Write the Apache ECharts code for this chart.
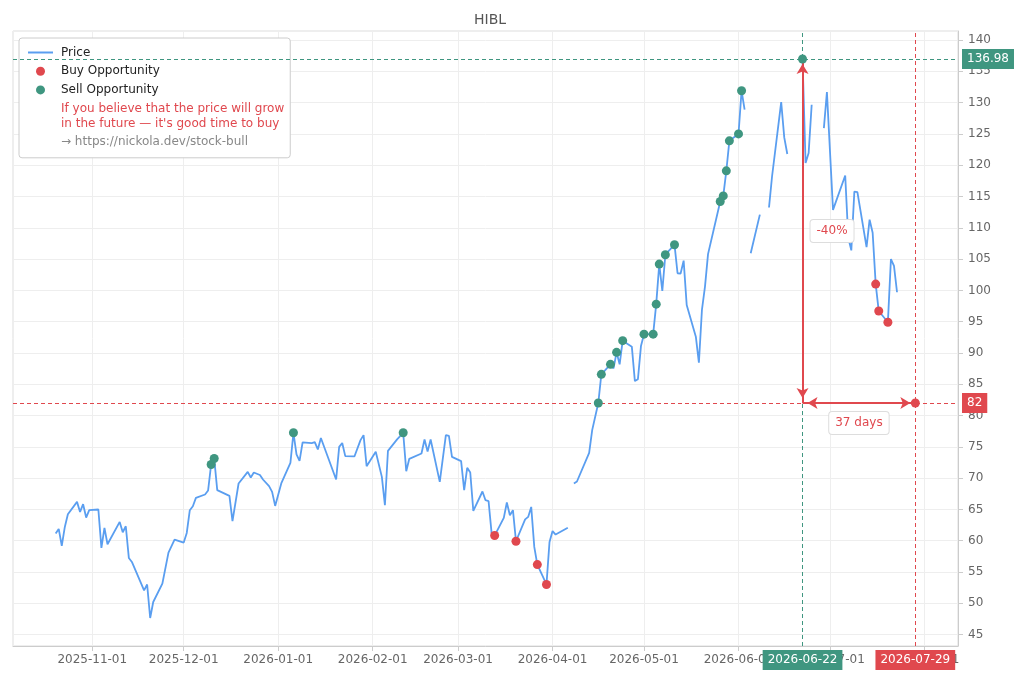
<!DOCTYPE html>
<html>
<head>
<meta charset="utf-8">
<title>HIBL</title>
<script src="https://cdn.jsdelivr.net/npm/echarts@6.0.0/dist/echarts.min.js"></script>
<style>
  html, body { margin: 0; padding: 0; background: #fff; }
  #chart { width: 1020px; height: 680px; }
</style>
</head>
<body>
<div id="chart"></div>
<script>
// price history (null = no quote, line is broken there)
var priceDates = [
  '2025-10-20','2025-10-21','2025-10-22','2025-10-23','2025-10-24','2025-10-27','2025-10-28','2025-10-29','2025-10-30','2025-10-31',
  '2025-11-03','2025-11-04','2025-11-05','2025-11-06','2025-11-10','2025-11-11','2025-11-12','2025-11-13','2025-11-14','2025-11-18',
  '2025-11-19','2025-11-20','2025-11-21','2025-11-24','2025-11-26','2025-11-28','2025-12-01','2025-12-02','2025-12-03','2025-12-04',
  '2025-12-05','2025-12-08','2025-12-09','2025-12-10','2025-12-11','2025-12-12','2025-12-16','2025-12-17','2025-12-19','2025-12-22',
  '2025-12-23','2025-12-24','2025-12-26','2025-12-27','2025-12-29','2025-12-30','2025-12-31','2026-01-02','2026-01-05','2026-01-06',
  '2026-01-07','2026-01-08','2026-01-09','2026-01-12','2026-01-13','2026-01-14','2026-01-15','2026-01-20','2026-01-21','2026-01-22',
  '2026-01-23','2026-01-26','2026-01-28','2026-01-29','2026-01-30','2026-02-02','2026-02-04','2026-02-05','2026-02-06','2026-02-09',
  '2026-02-11','2026-02-12','2026-02-13','2026-02-17','2026-02-18','2026-02-19','2026-02-20','2026-02-23','2026-02-25','2026-02-26',
  '2026-02-27','2026-03-02','2026-03-03','2026-03-04','2026-03-05','2026-03-06','2026-03-09','2026-03-10','2026-03-11','2026-03-12',
  '2026-03-13','2026-03-16','2026-03-17','2026-03-18','2026-03-19','2026-03-20','2026-03-23','2026-03-24','2026-03-25','2026-03-26',
  '2026-03-27','2026-03-30','2026-03-31','2026-04-01','2026-04-02','2026-04-06','2026-04-07','2026-04-08','2026-04-09','2026-04-13',
  '2026-04-14','2026-04-16','2026-04-17','2026-04-20','2026-04-21','2026-04-22','2026-04-23','2026-04-24','2026-04-27','2026-04-28',
  '2026-04-29','2026-04-30','2026-05-01','2026-05-04','2026-05-05','2026-05-06','2026-05-07','2026-05-08','2026-05-11','2026-05-12',
  '2026-05-13','2026-05-14','2026-05-15','2026-05-18','2026-05-19','2026-05-20','2026-05-21','2026-05-22','2026-05-26','2026-05-27',
  '2026-05-28','2026-05-29','2026-06-01','2026-06-02','2026-06-03','2026-06-04','2026-06-05','2026-06-08','2026-06-10','2026-06-11',
  '2026-06-12','2026-06-15','2026-06-16','2026-06-17','2026-06-18','2026-06-22','2026-06-23','2026-06-24','2026-06-25','2026-06-26',
  '2026-06-29','2026-06-30','2026-07-02','2026-07-06','2026-07-07','2026-07-08','2026-07-09','2026-07-10','2026-07-13','2026-07-14',
  '2026-07-15','2026-07-16','2026-07-17','2026-07-20','2026-07-21','2026-07-22','2026-07-23'
];
var priceValues = [
  61.14, 61.88, 59.16, 62.2, 64.23, 66.2, 64.6, 65.83, 63.7, 64.87,
  64.98, 58.84, 62.04, 59.43, 63.0, 61.35, 62.31, 57.24, 56.6, 52.07,
  53.0, 47.64, 50.2, 53.14, 58.1, 60.18, 59.7, 61.24, 64.87, 65.51,
  66.84, 67.38, 68.02, 72.18, 73.14, 68.07, 67.16, 63.11, 69.14, 71.0,
  70.1, 70.9, 70.5, 69.78, 68.71, 67.8, 65.56, 69.14, 72.44, 77.24,
  73.78, 72.76, 75.7, 75.6, 75.75, 74.58, 76.4, 69.78, 75.0, 75.6,
  73.51, 73.46, 76.07, 76.87, 71.91, 74.2, 70.2, 65.67, 74.36, 76.18,
  77.24, 71.11, 73.08, 73.94, 76.18, 74.26, 76.18, 69.4, 76.87, 76.76,
  73.4, 72.71, 68.07, 71.64, 70.9, 64.76, 67.86, 66.47, 66.34, 61.2,
  60.82, 63.64, 66.1, 64.07, 64.87, 59.91, 63.4, 63.8, 65.4, 59.0,
  56.18, 53.0, 59.8, 61.54, 60.98, 62.07, null, 69.14, 69.46, 74.04,
  77.67, 82.0, 86.58, 88.18, 87.54, 90.1, 88.18, 91.96, 91.0, 85.51,
  85.8, 91.1, 93.0, 93.0, 97.8, 104.2, 99.9, 105.7, 107.3, 102.74,
  102.7, 104.76, 97.67, 92.6, 88.44, 96.87, 100.6, 105.8, 114.2, 115.1,
  119.1, 123.9, 125.0, 131.9, 128.87, null, 105.94, 112.1, null, 113.24,
  118.2, 130.1, 124.44, 121.8, null, 136.98, 120.34, 121.94, 129.67, null,
  125.94, 131.7, 112.87, 118.36, 108.4, 106.4, 115.8, 115.7, 106.9, 111.3,
  109.2, 101.0, 96.7, 94.9, 105.0, 103.9, 99.7
];

var buyDates = ['2026-03-13', '2026-03-20', '2026-03-27', '2026-03-30', '2026-07-16', '2026-07-17', '2026-07-20', '2026-07-29'];
var buyValues = [60.82, 59.91, 56.18, 53.0, 101.0, 96.7, 94.9, 82];

var sellDates = [
  '2025-12-10', '2025-12-11', '2026-01-06', '2026-02-11', '2026-04-16', '2026-04-17', '2026-04-20', '2026-04-22',
  '2026-04-24', '2026-05-01', '2026-05-04', '2026-05-05', '2026-05-06', '2026-05-08', '2026-05-11', '2026-05-26',
  '2026-05-27', '2026-05-28', '2026-05-29', '2026-06-01', '2026-06-02', '2026-06-22'
];
var sellValues = [
  72.18, 73.14, 77.24, 77.24, 82.0, 86.58, 88.18, 90.1,
  91.96, 93.0, 93.0, 97.8, 104.2, 105.7, 107.3, 114.2,
  115.1, 119.1, 123.9, 125.0, 131.9, 136.98
];

// signal: last sell peak and the target buy
var sellSignalDate = '2026-06-22';
var sellSignalPrice = 136.98;
var buySignalDate = '2026-07-29';
var buySignalPrice = 82;

var ticker = 'HIBL';
var noteText = 'If you believe that the price will grow\nin the future \u2014 it\'s good time to buy';
var linkText = '\u2192 https://nickola.dev/stock-bull';

var BLUE = '#5a9ef0';
var GREEN = '#3f9680';
var RED = '#e0484e';
var FONT = 'DejaVu Sans';

function zip(a, b) {
  var out = [];
  for (var i = 0; i < a.length; i++) out.push([a[i], b[i]]);
  return out;
}

var tSell = echarts.number.parseDate(sellSignalDate).getTime();
var tBuy = echarts.number.parseDate(buySignalDate).getTime();
var days = Math.round((tBuy - tSell) / 86400000);
var pct = Math.round((buySignalPrice - sellSignalPrice) / sellSignalPrice * 100);

var myChart = echarts.init(document.getElementById('chart'));

var tagLabel = function (color, text, pos) {
  return {
    show: true, position: pos, distance: 4, formatter: text,
    color: '#fff', backgroundColor: color, padding: [4, 5],
    fontSize: 12, fontFamily: FONT
  };
};

var arrowEnd = function (coord) {
  return { coord: coord, symbol: 'arrow', symbolSize: [9, 10], symbolOffset: [0, 5] };
};

option = {
  animation: false,
  textStyle: { fontFamily: FONT },
  title: {
    text: ticker,
    left: 485,
    top: 8,
    textAlign: 'center',
    textStyle: { color: '#555', fontSize: 14, fontWeight: 'normal', fontFamily: FONT }
  },
  legend: {
    orient: 'vertical',
    left: 19,
    top: 38,
    padding: [7, 6, 8, 8],
    itemWidth: 25,
    itemHeight: 9,
    itemGap: 3.7,
    backgroundColor: '#fff',
    borderColor: '#ccc',
    borderWidth: 1,
    borderRadius: 3,
    textStyle: { color: '#222', fontSize: 12, lineHeight: 15, fontFamily: FONT, padding: [0, 0, 0, 3] },
    data: [
      { name: 'Price', itemStyle: { opacity: 0 }, lineStyle: { width: 2 } },
      { name: 'Buy Opportunity', icon: 'circle' },
      { name: 'Sell Opportunity', icon: 'circle' },
      { name: noteText, icon: 'circle', textStyle: { color: RED } },
      { name: linkText, icon: 'circle', textStyle: { color: '#888' } }
    ]
  },
  grid: {
    left: 13, right: 62, top: 31, bottom: 34,
    show: true, borderColor: '#ddd', borderWidth: 1,
    containLabel: false,
    outerBoundsMode: 'none'
  },
  xAxis: {
    type: 'time',
    min: '2025-10-06',
    max: '2026-08-12',
    splitNumber: 10,
    axisLine: { show: true, lineStyle: { color: '#ccc' } },
    axisTick: { show: true, length: 5, lineStyle: { color: '#ccc' } },
    splitLine: { show: true, lineStyle: { color: '#eee' } },
    axisLabel: {
      formatter: '{yyyy}-{MM}-{dd}',
      color: '#666', fontSize: 12, margin: 8,
      showMinLabel: false, showMaxLabel: false,
      hideOverlap: false
    }
  },
  yAxis: {
    type: 'value',
    position: 'right',
    min: 43.17,
    max: 141.45,
    splitNumber: 20,
    axisLine: { show: true, lineStyle: { color: '#ccc' } },
    axisTick: { show: true, length: 5, lineStyle: { color: '#ccc' } },
    splitLine: { show: true, lineStyle: { color: '#eee' } },
    axisLabel: {
      color: '#666', fontSize: 12, margin: 10,
      showMinLabel: false, showMaxLabel: false
    }
  },
  series: [
    {
      name: 'Price',
      type: 'line',
      z: 2,
      data: zip(priceDates, priceValues),
      symbol: 'none',
      connectNulls: false,
      color: BLUE,
      lineStyle: { color: BLUE, width: 1.8 },
      markLine: {
        silent: true,
        symbol: 'none',
        animation: false,
        data: [
          {
            yAxis: sellSignalPrice,
            lineStyle: { color: GREEN, type: [4, 3], width: 1 },
            label: tagLabel(GREEN, String(sellSignalPrice), 'end')
          },
          {
            yAxis: buySignalPrice,
            lineStyle: { color: RED, type: [4, 3], width: 1 },
            label: tagLabel(RED, String(buySignalPrice), 'end')
          },
          {
            xAxis: sellSignalDate,
            lineStyle: { color: GREEN, type: [4, 3], width: 1 },
            label: tagLabel(GREEN, sellSignalDate, 'start')
          },
          {
            xAxis: buySignalDate,
            lineStyle: { color: RED, type: [4, 3], width: 1 },
            label: tagLabel(RED, buySignalDate, 'start')
          },
          [
            Object.assign(arrowEnd([sellSignalDate, buySignalPrice]),
              { lineStyle: { color: RED, type: 'solid', width: 2 }, label: { show: false } }),
            arrowEnd([sellSignalDate, sellSignalPrice])
          ],
          [
            Object.assign(arrowEnd([sellSignalDate, buySignalPrice]),
              { lineStyle: { color: RED, type: 'solid', width: 2 }, label: { show: false } }),
            arrowEnd([buySignalDate, buySignalPrice])
          ]
        ]
      },
      markPoint: {
        silent: true,
        symbol: 'circle',
        symbolSize: 0,
        animation: false,
        label: {
          show: true, color: RED, fontSize: 12, fontFamily: FONT,
          backgroundColor: '#fff', borderColor: '#ddd', borderWidth: 1, borderRadius: 3,
          padding: [5, 6]
        },
        data: [
          {
            coord: [sellSignalDate, (sellSignalPrice + buySignalPrice) / 2],
            label: { position: 'right', distance: 8, formatter: pct + '%' }
          },
          {
            coord: [(tSell + tBuy) / 2, buySignalPrice],
            label: { position: 'bottom', distance: 9, formatter: days + ' days' }
          }
        ]
      }
    },
    {
      name: 'Buy Opportunity',
      type: 'scatter',
      z: 6,
      data: zip(buyDates, buyValues),
      symbol: 'circle',
      symbolSize: 9,
      itemStyle: { color: RED, opacity: 1 }
    },
    {
      name: 'Sell Opportunity',
      type: 'scatter',
      z: 6,
      data: zip(sellDates, sellValues),
      symbol: 'circle',
      symbolSize: 9,
      itemStyle: { color: GREEN, opacity: 1 }
    },
    { name: noteText, type: 'line', data: [], itemStyle: { color: 'rgba(0,0,0,0)' }, lineStyle: { color: 'rgba(0,0,0,0)' } },
    { name: linkText, type: 'line', data: [], itemStyle: { color: 'rgba(0,0,0,0)' }, lineStyle: { color: 'rgba(0,0,0,0)' } }
  ]
};

myChart.setOption(option);
</script>
</body>
</html>
